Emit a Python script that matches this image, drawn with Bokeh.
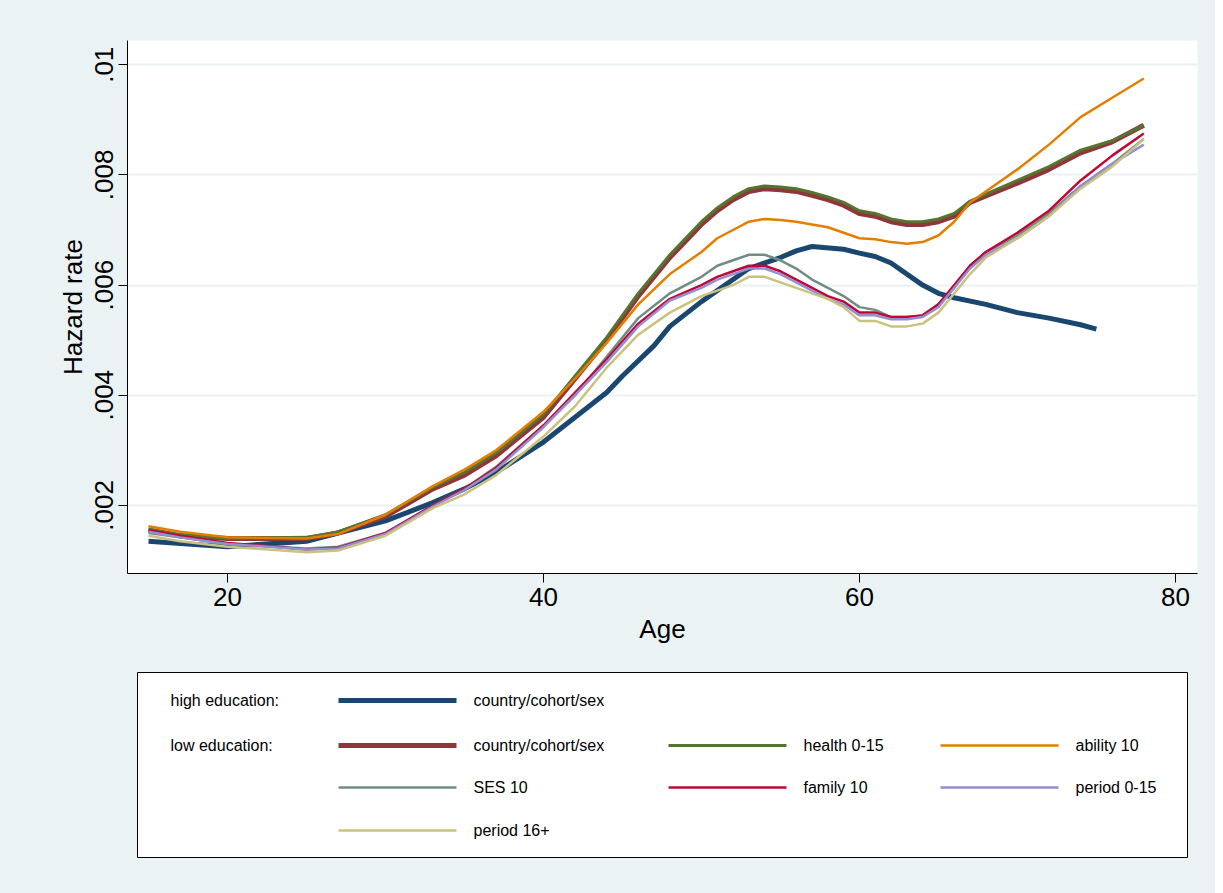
from bokeh.plotting import figure
from bokeh.layouts import column
from bokeh.models import Range1d, SingleIntervalTicker, FixedTicker
from bokeh.core.properties import value
from bokeh.embed import file_html
from bokeh.resources import INLINE

BG = "#EAF2F3"
FONT = "Liberation Sans"

# hazard rates in units of 0.001
high_age = [15, 20, 25, 27, 30, 33, 35, 37, 40, 42, 44, 45, 47, 48, 50, 52, 53, 55, 56, 57, 59, 60, 61, 62, 64, 65, 66, 68, 70, 72, 74, 75]
high_ccs = [1.35, 1.25, 1.35, 1.5, 1.72, 2.05, 2.3, 2.6, 3.15, 3.6, 4.05, 4.35, 4.9, 5.25, 5.7, 6.1, 6.3, 6.5, 6.62, 6.7, 6.65, 6.58, 6.52, 6.4, 6.0, 5.85, 5.77, 5.65, 5.5, 5.4, 5.28, 5.2]

low_age = [15, 17, 20, 25, 27, 30, 33, 35, 37, 40, 42, 44, 46, 48, 50, 51, 52, 53, 54, 55, 56, 57, 58, 59, 60, 61, 62, 63, 64, 65, 66, 67, 68, 70, 72, 74, 76, 78]
low_ccs = [1.55, 1.45, 1.4, 1.4, 1.5, 1.8, 2.3, 2.55, 2.9, 3.6, 4.3, 5.0, 5.8, 6.5, 7.1, 7.35, 7.55, 7.7, 7.75, 7.73, 7.7, 7.63, 7.55, 7.45, 7.3, 7.25, 7.15, 7.1, 7.1, 7.15, 7.25, 7.5, 7.62, 7.85, 8.1, 8.4, 8.6, 8.9]
health = [1.57, 1.47, 1.4, 1.42, 1.52, 1.83, 2.33, 2.6, 2.95, 3.65, 4.35, 5.05, 5.85, 6.55, 7.15, 7.4, 7.6, 7.75, 7.8, 7.78, 7.75, 7.68, 7.6, 7.5, 7.35, 7.3, 7.2, 7.15, 7.15, 7.2, 7.3, 7.52, 7.65, 7.9, 8.15, 8.45, 8.62, 8.9]
ability = [1.62, 1.52, 1.42, 1.4, 1.48, 1.83, 2.35, 2.65, 3.0, 3.7, 4.3, 4.95, 5.65, 6.2, 6.6, 6.85, 7.0, 7.15, 7.2, 7.18, 7.15, 7.1, 7.05, 6.95, 6.85, 6.83, 6.78, 6.75, 6.78, 6.9, 7.15, 7.5, 7.7, 8.1, 8.55, 9.05, 9.4, 9.75]
ses = [1.5, 1.42, 1.3, 1.22, 1.25, 1.5, 2.0, 2.3, 2.7, 3.45, 4.0, 4.7, 5.4, 5.85, 6.15, 6.35, 6.45, 6.55, 6.55, 6.45, 6.3, 6.1, 5.95, 5.8, 5.6, 5.55, 5.42, 5.42, 5.45, 5.65, 5.95, 6.35, 6.6, 6.9, 7.3, 7.8, 8.2, 8.65]
family = [1.55, 1.45, 1.32, 1.2, 1.23, 1.5, 2.0, 2.3, 2.68, 3.45, 4.05, 4.65, 5.3, 5.75, 6.0, 6.15, 6.25, 6.35, 6.35, 6.25, 6.1, 5.95, 5.8, 5.7, 5.5, 5.5, 5.42, 5.42, 5.45, 5.65, 6.0, 6.35, 6.6, 6.95, 7.35, 7.9, 8.35, 8.75]
period015 = [1.52, 1.42, 1.3, 1.2, 1.22, 1.48, 1.98, 2.28, 2.65, 3.42, 4.0, 4.6, 5.25, 5.72, 5.95, 6.1, 6.2, 6.3, 6.3, 6.2, 6.05, 5.9, 5.75, 5.65, 5.45, 5.45, 5.38, 5.38, 5.42, 5.6, 5.95, 6.3, 6.55, 6.85, 7.25, 7.8, 8.2, 8.55]
period16 = [1.45, 1.35, 1.25, 1.15, 1.18, 1.45, 1.95, 2.2, 2.55, 3.25, 3.8, 4.5, 5.1, 5.5, 5.8, 5.9, 6.0, 6.15, 6.15, 6.05, 5.95, 5.85, 5.75, 5.6, 5.35, 5.35, 5.25, 5.25, 5.3, 5.5, 5.85, 6.2, 6.5, 6.85, 7.25, 7.75, 8.15, 8.65]

y_ticks = [0.002, 0.004, 0.006, 0.008, 0.01]
y_tick_labels = {0.002: ".002", 0.004: ".004", 0.006: ".006", 0.008: ".008", 0.01: ".01"}

# (group label, series label, ages, values, colour, width)
series = [
    ("high education:", "country/cohort/sex", high_age, high_ccs, "#1a476f", 5),
    ("low education:", "country/cohort/sex", low_age, low_ccs, "#90353b", 5),
    ("", "health 0-15", low_age, health, "#55752f", 3),
    ("", "ability 10", low_age, ability, "#e37e00", 2.5),
    ("", "SES 10", low_age, ses, "#6e8e84", 2.5),
    ("", "family 10", low_age, family, "#c10534", 2.5),
    ("", "period 0-15", low_age, period015, "#938dd2", 2.5),
    ("", "period 16+", low_age, period16, "#cac27e", 2.5),
]

p = figure(width=1215, height=668, output_backend="svg", toolbar_location=None,
           x_range=Range1d(13.67, 81.4), y_range=Range1d(0.000764, 0.01044),
           min_border_left=127, min_border_right=18, min_border_top=40, min_border_bottom=95,
           x_axis_label="Age", y_axis_label="Hazard rate")
p.background_fill_color = "white"
p.border_fill_color = BG
p.outline_line_color = None
p.xgrid.visible = False
p.ygrid.grid_line_color = BG
p.ygrid.grid_line_width = 2
p.xaxis.ticker = SingleIntervalTicker(interval=20)
p.yaxis.ticker = FixedTicker(ticks=y_ticks)
p.yaxis.major_label_overrides = y_tick_labels
p.yaxis.major_label_orientation = "vertical"
for ax in (p.xaxis, p.yaxis):
    ax.minor_tick_line_color = None
    ax.major_tick_out = 9
    ax.major_tick_in = 0
    ax.axis_line_color = "black"
    ax.major_tick_line_color = "black"
    ax.major_label_text_font = FONT
    ax.major_label_text_font_size = "26px"
    ax.major_label_text_color = "black"
    ax.axis_label_text_font = FONT
    ax.axis_label_text_font_size = "26px"
    ax.axis_label_text_font_style = "normal"
    ax.axis_label_text_color = "black"

for _, _, ages, vals, col, w in series:
    p.line(ages, [v / 1000 for v in vals], line_color=col, line_width=w, line_join="round")

# legend drawn as its own panel; the column aligns its frame with the plot's,
# so the x range is given in page pixels of that frame
lg = figure(width=1215, height=225, output_backend="svg", toolbar_location=None,
            x_range=Range1d(127, 1197), y_range=Range1d(225, 0),
            min_border_left=127, min_border_right=18, min_border_top=0, min_border_bottom=0)
lg.axis.visible = False
lg.grid.visible = False
lg.outline_line_color = None
lg.background_fill_color = BG
lg.border_fill_color = BG
lg.quad(left=137, right=1187, top=4, bottom=189, fill_color="white", line_color="black", line_width=1)

slots = [(0, 0), (1, 0), (1, 1), (1, 2), (2, 0), (2, 1), (2, 2), (3, 0)]
row_y = [32, 77, 119, 162]
col_x = [338, 668, 940]
for (grp, lab, _, _, col, w), (r, c) in zip(series, slots):
    y = row_y[r]
    x0 = col_x[c]
    lg.segment(x0=[x0], y0=[y], x1=[x0 + 118], y1=[y], line_color=col, line_width=w)
    lg.text(x=[x0 + 135], y=[y], text=[lab], text_font=value(FONT), text_font_size="16px",
            text_baseline="middle", text_color="black")
    if grp:
        lg.text(x=[170], y=[y], text=[grp], text_font=value(FONT), text_font_size="16px",
                text_baseline="middle", text_color="black")

layout = column(p, lg, spacing=0, styles={"background-color": BG})
open("out.html", "w").write(file_html(layout, INLINE))
